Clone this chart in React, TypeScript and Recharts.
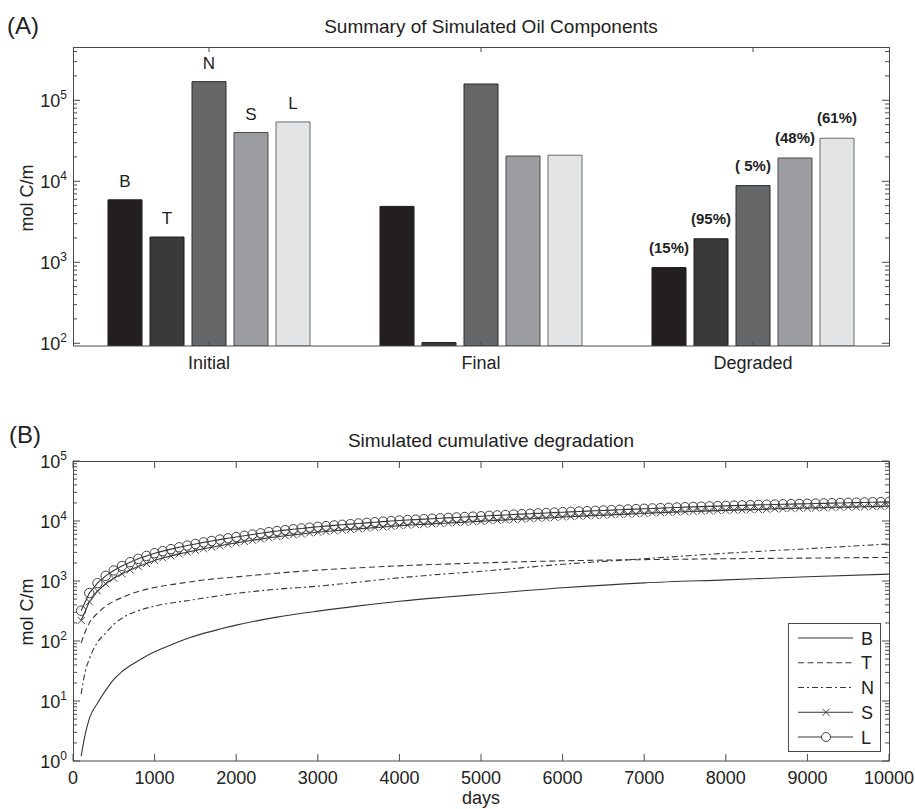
import React from 'react';
import { BarChart, Bar, LineChart, Line, XAxis, YAxis, LabelList, Legend } from 'recharts';

// ---- panel A: summary bars ----
const categories = ['Initial', 'Final', 'Degraded'];
const components = ['B', 'T', 'N', 'S', 'L'];
const valuesB = [5900, 4900, 860];
const valuesT = [2050, 102, 1950];
const valuesN = [170000, 159000, 8850];
const valuesS = [40000, 20500, 19400];
const valuesL = [54000, 21000, 34000];
const initialLabels = ['B', 'T', 'N', 'S', 'L'];
const degradedLabels = ['(15%)', '(95%)', '( 5%)', '(48%)', '(61%)'];
const barColors = ['#231f20', '#3a3a3b', '#666769', '#9c9da0', '#e3e4e6'];
const barStrokes = ['#1a1a1a', '#1a1a1a', '#2a2a2a', '#4a4a4a', '#6a6a6a'];
const decadesA = [100, 1000, 10000, 100000];

// ---- panel B: cumulative degradation ----
const decadesB = [1, 10, 100, 1000, 10000, 100000];
const dayTicks = [0, 1000, 2000, 3000, 4000, 5000, 6000, 7000, 8000, 9000, 10000];
const sparseDays = [100, 150, 200, 300, 400, 500, 600, 800, 1000, 1200, 1400, 1600, 1800, 2000, 2500, 3000, 3500, 4000, 4500, 5000, 6000, 7000, 8000, 9000, 10000];
const degB = [1.2, 2.8, 5.1, 9.2, 15, 23, 31, 47, 66, 86, 110, 134, 158, 184, 250, 315, 385, 460, 530, 600, 770, 930, 1045, 1175, 1300];
const degT = [92, 143, 200, 290, 380, 460, 530, 670, 780, 870, 950, 1040, 1110, 1170, 1350, 1520, 1660, 1790, 1900, 2000, 2170, 2270, 2350, 2410, 2470];
const degN = [13, 31, 50, 95, 135, 190, 240, 320, 380, 430, 470, 520, 570, 620, 730, 820, 960, 1130, 1290, 1450, 1900, 2350, 2900, 3450, 4150];

const days = [
  100, 200, 300, 400, 500, 600, 700, 800, 900, 1000,
  1100, 1200, 1300, 1400, 1500, 1600, 1700, 1800, 1900, 2000,
  2100, 2200, 2300, 2400, 2500, 2600, 2700, 2800, 2900, 3000,
  3100, 3200, 3300, 3400, 3500, 3600, 3700, 3800, 3900, 4000,
  4100, 4200, 4300, 4400, 4500, 4600, 4700, 4800, 4900, 5000,
  5100, 5200, 5300, 5400, 5500, 5600, 5700, 5800, 5900, 6000,
  6100, 6200, 6300, 6400, 6500, 6600, 6700, 6800, 6900, 7000,
  7100, 7200, 7300, 7400, 7500, 7600, 7700, 7800, 7900, 8000,
  8100, 8200, 8300, 8400, 8500, 8600, 8700, 8800, 8900, 9000,
  9100, 9200, 9300, 9400, 9500, 9600, 9700, 9800, 9900, 10000,
];
const degS = [
  220, 450, 680, 900, 1110, 1320, 1530, 1740, 1960, 2200,
  2420, 2620, 2830, 3020, 3240, 3440, 3660, 3860, 4090, 4320,
  4540, 4770, 4990, 5260, 5480, 5680, 5870, 6060, 6310, 6500,
  6680, 6860, 7040, 7220, 7400, 7580, 7760, 7930, 8110, 8360,
  8510, 8660, 8800, 8950, 9100, 9250, 9390, 9540, 9690, 9840,
  10080, 10250, 10410, 10580, 10740, 10910, 11070, 11240, 11400, 11670,
  11830, 12000, 12170, 12330, 12500, 12670, 12830, 13000, 13170, 13330,
  13610, 13780, 13950, 14120, 14290, 14440, 14590, 14740, 14890, 15040,
  15180, 15310, 15450, 15580, 15710, 15970, 16080, 16200, 16320, 16440,
  16560, 16680, 16800, 16920, 17030, 17150, 17270, 17390, 17510, 17630,
];
const degL = [
  320, 630, 920, 1220, 1500, 1780, 2060, 2340, 2620, 2900,
  3150, 3400, 3650, 3900, 4150, 4400, 4650, 4900, 5150, 5400,
  5680, 5960, 6240, 6520, 6800, 7040, 7280, 7520, 7760, 8000,
  8220, 8440, 8660, 8880, 9100, 9320, 9540, 9760, 9980, 10200,
  10380, 10560, 10740, 10920, 11100, 11280, 11460, 11640, 11820, 12000,
  12200, 12400, 12600, 12800, 13000, 13200, 13400, 13600, 13800, 14000,
  14200, 14400, 14600, 14800, 15000, 15200, 15400, 15600, 15800, 16000,
  16200, 16400, 16600, 16800, 17000, 17180, 17360, 17540, 17720, 17900,
  18060, 18220, 18380, 18540, 18700, 18840, 18980, 19120, 19260, 19400,
  19540, 19680, 19820, 19960, 20100, 20240, 20380, 20520, 20660, 20800,
];

const FONT = '"Liberation Sans", Arial, Helvetica, sans-serif';
const TXT = '#222';
const AX = '#4a4a4a';
const LINE = '#363636';

// plot boxes (local to each chart svg)
const PA = { left: 73, right: 889, top: 47, bottom: 346 };
const PB = { left: 73, right: 889, top: 81, bottom: 381 };

const withMinor = (decades: number[], max: number) => {
  const out: number[] = [];
  decades.forEach((d) => {
    for (let k = 1; k <= 9; k++) if (d * k <= max) out.push(d * k);
  });
  return out;
};

const seriesByComp: Record<string, number[]> = { B: valuesB, T: valuesT, N: valuesN, S: valuesS, L: valuesL };
const barData = categories.map((name, i) => {
  const row: any = { name };
  components.forEach((c, j) => {
    row[c] = seriesByComp[c][i];
    row['lab' + c] = i === 0 ? initialLabels[j] : i === 2 ? degradedLabels[j] : '';
  });
  return row;
});

const toRows = (xs: number[], ys: number[]) => xs.map((day, i) => ({ day, v: ys[i] }));
const rowsS = toRows(days, degS);
const rowsL = toRows(days, degL);

const makeLogTick = (plot: { left: number; right: number }) => (props: any) => {
  const { y, payload } = props;
  const lg = Math.log10(payload.value);
  const exp = Math.round(lg);
  const major = Math.abs(lg - exp) < 1e-6;
  const len = major ? 7 : 4;
  return (
    <g>
      <line x1={plot.left} x2={plot.left + len} y1={y} y2={y} stroke={AX} strokeWidth={1} />
      <line x1={plot.right} x2={plot.right - len} y1={y} y2={y} stroke={AX} strokeWidth={1} />
      {major && (
        <text x={plot.left - 6} y={y + 6.5} textAnchor="end" fontSize={18} fill={TXT} fontFamily={FONT}>
          <tspan>10</tspan>
          <tspan dy={-8} fontSize={12}>{exp}</tspan>
        </text>
      )}
    </g>
  );
};

const makeXTick = (plot: { top: number; bottom: number }, len: number) => (props: any) => {
  const { x, payload } = props;
  return (
    <g>
      <line x1={x} x2={x} y1={plot.bottom} y2={plot.bottom - len} stroke={AX} strokeWidth={1} />
      <line x1={x} x2={x} y1={plot.top} y2={plot.top + len} stroke={AX} strokeWidth={1} />
      <text x={x} y={plot.bottom + 23} textAnchor="middle" fontSize={18} fill={TXT} fontFamily={FONT}>
        {payload.value}
      </text>
    </g>
  );
};

const barLabel = (props: any) => {
  const { x, y, width, value } = props;
  if (!value) return null;
  const pct = String(value).startsWith('(');
  return (
    <text
      x={x + width / 2}
      y={y - (pct ? 15 : 13)}
      textAnchor="middle"
      fontSize={pct ? 15 : 17}
      fontWeight={pct ? 'bold' : 'normal'}
      fill={TXT}
      fontFamily={FONT}
      style={{ whiteSpace: 'pre' }}
    >
      {value}
    </text>
  );
};

const XMark = (props: any) => {
  const { cx, cy } = props;
  if (cx == null || cy == null) return <g />;
  const s = 3.5;
  return (
    <g>
      <line x1={cx - s} y1={cy - s} x2={cx + s} y2={cy + s} stroke="#444" strokeWidth={1} />
      <line x1={cx - s} y1={cy + s} x2={cx + s} y2={cy - s} stroke="#444" strokeWidth={1} />
    </g>
  );
};

const lineStyles = [
  { name: 'B', dash: undefined as string | undefined, marker: '' },
  { name: 'T', dash: '6 3.5', marker: '' },
  { name: 'N', dash: '6 3 2 3', marker: '' },
  { name: 'S', dash: undefined, marker: 'x' },
  { name: 'L', dash: undefined, marker: 'o' },
];

const LegendBox = () => (
  <div style={{ width: 93, height: 129, border: `1px solid ${AX}`, background: '#fff', boxSizing: 'border-box' }}>
    <svg width={91} height={127} style={{ display: 'block' }}>
      {lineStyles.map((s, i) => {
        const cy = 14 + i * 24.75;
        return (
          <g key={s.name}>
            <line x1={9} x2={64} y1={cy} y2={cy} stroke={LINE} strokeWidth={1} strokeDasharray={s.dash} />
            {s.marker === 'x' && <XMark cx={37} cy={cy} />}
            {s.marker === 'o' && <circle cx={37} cy={cy} r={4.5} fill="#fff" stroke="#444" strokeWidth={1} />}
            <text x={72} y={cy + 6.5} fontSize={18} fill={TXT} fontFamily={FONT}>
              {s.name}
            </text>
          </g>
        );
      })}
    </svg>
  </div>
);

export default function App() {
  return (
    <div style={{ position: 'absolute', left: 0, top: 0, width: 915, height: 809, background: '#fff', fontFamily: FONT }}>
      <div style={{ position: 'absolute', left: 0, top: 0 }}>
        <BarChart
          width={915}
          height={380}
          data={barData}
          margin={{ top: PA.top, right: 915 - PA.right, bottom: 380 - PA.bottom - 30, left: PA.left - 60 }}
          barCategoryGap={35}
          barGap={8}
        >
          <XAxis
            dataKey="name"
            axisLine={false}
            tickLine={false}
            tickSize={0}
            tickMargin={0}
            height={30}
            interval={0}
            tick={makeXTick(PA, 5)}
          />
          <YAxis
            scale="log"
            domain={[92.6, 455000]}
            allowDataOverflow
            ticks={withMinor(decadesA, 455000)}
            interval={0}
            axisLine={false}
            tickLine={false}
            tickSize={0}
            tickMargin={0}
            width={60}
            tick={makeLogTick(PA)}
          />
          {components.map((c, j) => (
            <Bar key={c} dataKey={c} fill={barColors[j]} stroke={barStrokes[j]} strokeWidth={1} isAnimationActive={false}>
              <LabelList dataKey={'lab' + c} content={barLabel} />
            </Bar>
          ))}
        </BarChart>
      </div>

      <div style={{ position: 'absolute', left: 0, top: 380 }}>
        <LineChart
          width={915}
          height={429}
          data={rowsL}
          margin={{ top: PB.top, right: 915 - PB.right, bottom: 429 - PB.bottom - 30, left: PB.left - 60 }}
        >
          <XAxis
            type="number"
            dataKey="day"
            domain={[0, 10000]}
            allowDataOverflow
            ticks={dayTicks}
            interval={0}
            axisLine={false}
            tickLine={false}
            tickSize={0}
            tickMargin={0}
            height={30}
            tick={makeXTick(PB, 7)}
          />
          <YAxis
            scale="log"
            domain={[1, 100000]}
            allowDataOverflow
            ticks={withMinor(decadesB, 100000)}
            interval={0}
            axisLine={false}
            tickLine={false}
            tickSize={0}
            tickMargin={0}
            width={60}
            tick={makeLogTick(PB)}
          />
          <Line data={toRows(sparseDays, degB)} dataKey="v" name="B" type="monotone" stroke={LINE} strokeWidth={1.1} dot={false} isAnimationActive={false} />
          <Line data={toRows(sparseDays, degT)} dataKey="v" name="T" type="monotone" stroke={LINE} strokeWidth={1.1} strokeDasharray="6 3.5" dot={false} isAnimationActive={false} />
          <Line data={toRows(sparseDays, degN)} dataKey="v" name="N" type="monotone" stroke={LINE} strokeWidth={1.1} strokeDasharray="6 3 2 3" dot={false} isAnimationActive={false} />
          <Line
            data={rowsS}
            dataKey="v"
            name="S"
            type="linear"
            stroke={LINE}
            strokeWidth={1.1}
            dot={(p: any) => <XMark key={`s-${p.index}`} cx={p.cx} cy={p.cy} />}
            isAnimationActive={false}
          />
          <Line
            data={rowsL}
            dataKey="v"
            name="L"
            type="linear"
            stroke={LINE}
            strokeWidth={1.1}
            dot={{ r: 4.7, fill: 'none', stroke: '#444', strokeWidth: 1 }}
            isAnimationActive={false}
          />
          <Legend
            layout="vertical"
            align="center"
            verticalAlign="middle"
            content={() => <LegendBox />}
            wrapperStyle={{ left: 788, top: 243, width: 93, height: 129 }}
          />
        </LineChart>
      </div>

      <svg width={915} height={809} style={{ position: 'absolute', left: 0, top: 0, pointerEvents: 'none' }} fontFamily={FONT}>
        <rect x={PA.left + 0.5} y={PA.top + 0.5} width={PA.right - PA.left} height={PA.bottom - PA.top - 0.5} fill="none" stroke={AX} />
        <rect x={PB.left + 0.5} y={380 + PB.top + 0.5} width={PB.right - PB.left} height={PB.bottom - PB.top - 0.5} fill="none" stroke={AX} />
        <text x={7} y={34} fontSize={24} fill={TXT}>(A)</text>
        <text x={491} y={33} fontSize={19} fill={TXT} textAnchor="middle">Summary of Simulated Oil Components</text>
        <text x={33} y={198} fontSize={18} fill={TXT} textAnchor="middle" transform="rotate(-90 33 198)">mol C/m</text>
        <text x={9} y={443} fontSize={24} fill={TXT}>(B)</text>
        <text x={491} y={447} fontSize={19} fill={TXT} textAnchor="middle">Simulated cumulative degradation</text>
        <text x={33} y={612} fontSize={18} fill={TXT} textAnchor="middle" transform="rotate(-90 33 612)">mol C/m</text>
        <text x={481} y={804} fontSize={18} fill={TXT} textAnchor="middle">days</text>
      </svg>
    </div>
  );
}
